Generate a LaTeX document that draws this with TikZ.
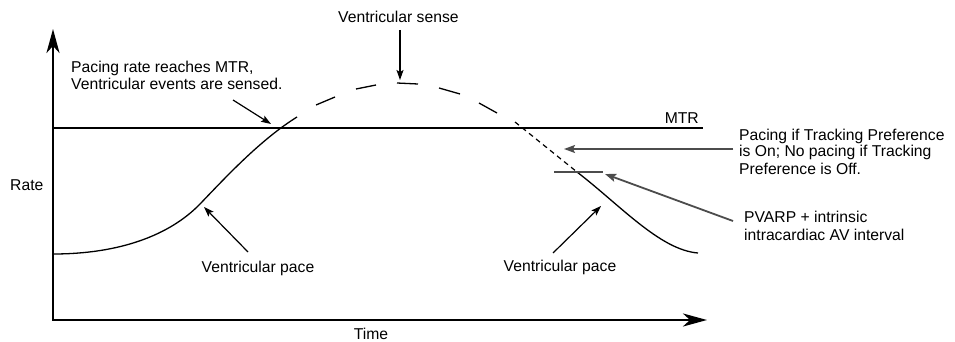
\documentclass[tikz,border=0pt]{standalone}
\usepackage{fontspec}
\setmainfont{Liberation Sans}
\usetikzlibrary{arrows.meta}
\definecolor{pgray}{gray}{0.3}
\begin{document}
\begin{tikzpicture}[x=1pt,y=-1pt,
  lbl/.style={inner sep=0pt, font=\fontsize{15.7}{17}\selectfont},
  axis/.style={line width=2.6pt, line cap=rect, -{Stealth[length=24pt,width=13pt,inset=7pt]}},
  ptr/.style={line width=1.2pt, -{Stealth[length=10pt,width=7pt,inset=2pt]}},
  gptr/.style={line width=1.8pt, draw=pgray, -{Stealth[length=11pt,width=8pt,inset=2pt]}, fill=pgray},
  curve/.style={line width=1.3pt},
  mtrline/.style={line width=2.2pt},
]
\useasboundingbox (0,0) rectangle (955,342);

% axes
\coordinate (O) at (53,320);
\coordinate (ytop) at (53,29);
\coordinate (xend) at (707,320);
\draw[axis] (O) -- (ytop);
\draw[axis] (O) -- (xend);

% MTR line
\coordinate (mtrL) at (53,128);
\coordinate (mtrR) at (703,128);
\draw[mtrline] (mtrL) -- (mtrR);
\node[lbl, anchor=base east] (mtr) at (699,124) {MTR};

% rising curve (paced)
\coordinate (c0) at (53,254);
\coordinate (c1) at (200,204);
\coordinate (c2) at (297,117);
\draw[curve] (c0) .. controls (120,254) and (170,235) .. (c1)
                  .. controls (225,178) and (260,140) .. (c2);
% sensed (long dashes)
\draw[curve] (316,105) -- (335,97);
\draw[curve] (356,89) -- (376,85);
\draw[curve] (397,83) -- (418,84);
\draw[curve] (439,88) -- (460,94);
\draw[curve] (479,103) -- (497,113);
% fine dashed section
\coordinate (fd1) at (515,122);
\coordinate (fd2) at (577,172);
\draw[line width=1.2pt, dash pattern=on 5pt off 4pt] (fd1) -- (fd2);
% falling curve (paced)
\coordinate (d1) at (698,253);
\draw[curve] (fd2) .. controls (620,205) and (660,250) .. (d1);

% PVARP level mark
\coordinate (pvL) at (554,172);
\coordinate (pvR) at (603,172);
\draw[line width=2pt, pgray] (pvL) -- (pvR);

% labels
\node[lbl, anchor=base west] (sense) at (338,23) {Ventricular sense};
\node[lbl, anchor=base west] (reach1) at (71,73) {Pacing rate reaches MTR,};
\node[lbl, anchor=base west] (reach2) at (71,90) {Ventricular events are sensed.};
\node[lbl, anchor=base west] (track1) at (739,140) {Pacing if Tracking Preference};
\node[lbl, anchor=base west] (track2) at (739,157) {is On; No pacing if Tracking};
\node[lbl, anchor=base west] (track3) at (739,174) {Preference is Off.};
\node[lbl, anchor=base west] (pvarp1) at (744,222) {PVARP + intrinsic};
\node[lbl, anchor=base west] (pvarp2) at (744,240) {intracardiac AV interval};
\node[lbl, anchor=base west] (rate) at (10,190) {Rate};
\node[lbl, anchor=base] (time) at (371,339.5) {Time};
\node[lbl, anchor=base] (vpace1) at (258,272) {Ventricular pace};
\node[lbl, anchor=base] (vpace2) at (560,271) {Ventricular pace};

% pointers
\coordinate (senseS) at (400,30);
\coordinate (senseT) at (400,80);
\draw[ptr] (senseS) -- (senseT);
\coordinate (reachS) at (233,100);
\coordinate (reachT) at (271,124);
\draw[ptr] (reachS) -- (reachT);
\coordinate (vp1S) at (248,252);
\coordinate (vp1T) at (204,207);
\draw[ptr] (vp1S) -- (vp1T);
\coordinate (vp2S) at (553,253);
\coordinate (vp2T) at (601,206);
\draw[ptr] (vp2S) -- (vp2T);
\coordinate (trS) at (733,149);
\coordinate (trT) at (564,149);
\draw[gptr] (trS) -- (trT);
\coordinate (pvS) at (733,221);
\coordinate (pvT) at (605,174);
\draw[gptr] (pvS) -- (pvT);
\end{tikzpicture}
\end{document}
